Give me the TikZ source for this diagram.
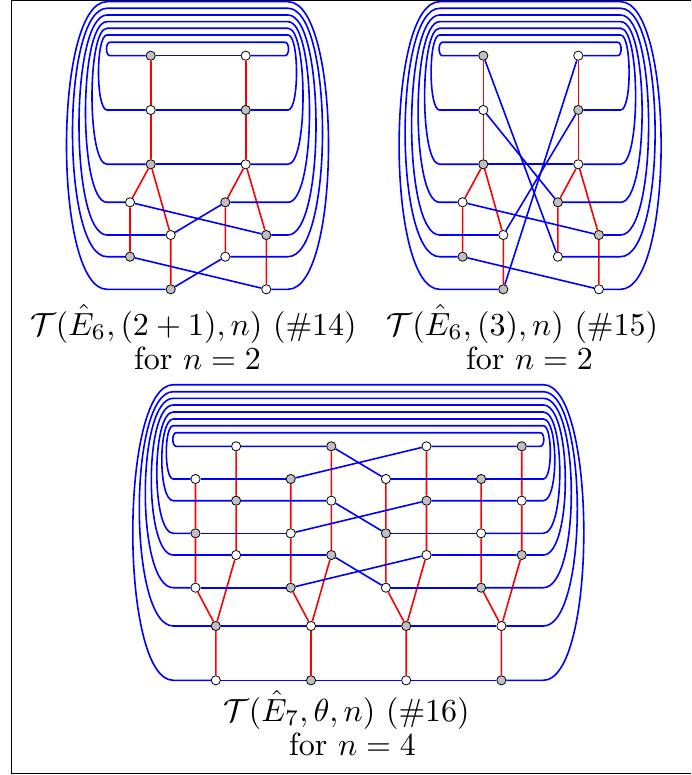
\documentclass[tikz,border=0pt]{standalone}
\usepackage{amsmath}
\usepackage{tikz}
\definecolor{vertgray}{RGB}{192,192,192}
\tikzset{
  wvert/.style={circle, draw=black, fill=white, line width=0.4pt,
    inner sep=0pt, minimum size=4.6pt},
  gvert/.style={wvert, fill=vertgray},
  redge/.style={red, line width=0.8pt},
  bedge/.style={blue, line width=0.8pt},
  captext/.style={anchor=base, inner sep=0pt, scale=1.6, transform shape}
}

\begin{document}
\begin{tikzpicture}[x=0.5pt, y=-0.5pt]
  \useasboundingbox (0,0) rectangle (691,775);
  % Frame
  \draw[line width=0.6pt] (691,0.6) -- (11.3,0.6) -- (11.3,773.8) -- (691,773.8);

  % Top diagrams (E6 hat), the second one shifted right
  \foreach \p/\sh in {A/0,B/332.6}{
    \begin{scope}[shift={(\sh,0)}]
      \node[gvert] (\p u1) at (150.7,55.7) {};
      \node[wvert] (\p v1) at (245.7,55.7) {};
      \node[wvert] (\p u2) at (150.7,110) {};
      \node[gvert] (\p v2) at (245.7,110) {};
      \node[gvert] (\p u3) at (150.7,164.3) {};
      \node[wvert] (\p v3) at (245.7,164.3) {};
      \node[wvert] (\p p4) at (130,202.3) {};
      \node[gvert] (\p r4) at (225.3,202.3) {};
      \node[wvert] (\p q5) at (170.7,235) {};
      \node[gvert] (\p s5) at (266.3,235) {};
      \node[gvert] (\p p6) at (130,256.7) {};
      \node[wvert] (\p r6) at (225.3,256.7) {};
      \node[gvert] (\p q7) at (170.7,289.3) {};
      \node[wvert] (\p s7) at (266.3,289.3) {};
      % red edges
      \draw[redge] (\p u1) -- (\p u2) -- (\p u3);
      \draw[redge] (\p v1) -- (\p v2) -- (\p v3);
      \draw[redge] (\p u3) -- (\p p4) -- (\p p6);
      \draw[redge] (\p u3) -- (\p q5) -- (\p q7);
      \draw[redge] (\p v3) -- (\p r4) -- (\p r6);
      \draw[redge] (\p v3) -- (\p s5) -- (\p s7);
      % loops round the top
      \foreach \a/\b/\yb/\yt/\d/\e in {u1/v1/55.7/42.3/3.5/3, u2/v2/110/35/8.5/0,
          u3/v3/164.3/28.3/15/0, p4/r4/202.3/21.7/21.5/0, q5/s5/235/15/28/0,
          p6/r6/256.7/8.3/34.5/0, q7/s7/289.3/1.7/40.5/0}
        \draw[bedge] (\p\a) -- ({107+\e},\yb)
          .. controls ({107+\e-4*\d/3},\yb) and ({107+\e-4*\d/3},\yt) .. ({107+\e},\yt)
          -- ({288-\e},\yt)
          .. controls ({288-\e+4*\d/3},\yt) and ({288-\e+4*\d/3},\yb) .. ({288-\e},\yb)
          -- (\p\b);
      \draw[bedge] (\p p4) -- (\p s5);
      \draw[bedge] (\p p6) -- (\p s7);
      \draw[bedge] (\p u3) -- (\p v3);
    \end{scope}
  }
  % inner blue edges, left diagram
  \draw[bedge] (Au1) -- (Av1);
  \draw[bedge] (Au2) -- (Av2);
  \draw[bedge] (Aq5) -- (Ar4);
  \draw[bedge] (Aq7) -- (Ar6);
  % inner blue edges, right diagram
  \draw[bedge] (Bu1) -- (Br6);
  \draw[bedge] (Bu2) -- (Br4);
  \draw[bedge] (Bv1) -- (Bq7);
  \draw[bedge] (Bv2) -- (Bq5);

  \node[captext] (capA) at (193.5,335) {$\mathcal{T}(\hat{E}_6,(2+1),n)$ (\#14)};
  \node[captext] (capAn) at (197.5,369) {for $n=2$};
  \node[captext] (capB) at (522.5,335) {$\mathcal{T}(\hat{E}_6,(3),n)$ (\#15)};
  \node[captext] (capBn) at (529.5,369) {for $n=2$};

  % Bottom diagram (E7 hat), four groups
  \foreach \g/\X/\ca/\cb in {1/215.8/w/g, 2/311/g/w, 3/406.2/w/g, 4/501.4/g/w}{
    \node[\ca vert] (b\g r1) at ({\X+20.3},446.3) {};
    \node[\ca vert] (b\g r2) at ({\X-20.3},479) {};
    \node[\cb vert] (b\g r3) at ({\X+20.3},500.7) {};
    \node[\cb vert] (b\g r4) at ({\X-20.3},533.3) {};
    \node[\ca vert] (b\g r5) at ({\X+20.3},555) {};
    \node[\ca vert] (b\g r6) at ({\X-20.3},587.7) {};
    \node[\cb vert] (b\g r7) at (\X,626) {};
    \node[\ca vert] (b\g r8) at (\X,680.3) {};
    \draw[redge] (b\g r1) -- (b\g r3) -- (b\g r5) -- (b\g r7) -- (b\g r8);
    \draw[redge] (b\g r2) -- (b\g r4) -- (b\g r6) -- (b\g r7);
  }
  % loops
  \foreach \k/\yb/\yt/\d/\e in {1/446.3/432.7/3.5/3, 2/479/425.7/7/0,
      3/500.7/419/11.5/0, 4/533.3/412/16.5/0, 5/555/405/22/0,
      6/587.7/398.3/28/0, 7/626/391.7/34/0, 8/680.3/384.7/40.5/0}{
    \draw[bedge] (b1r\k) -- ({173.3+\e},\yb)
      .. controls ({173.3+\e-4*\d/3},\yb) and ({173.3+\e-4*\d/3},\yt) .. ({173.3+\e},\yt)
      -- ({543.3-\e},\yt)
      .. controls ({543.3-\e+4*\d/3},\yt) and ({543.3-\e+4*\d/3},\yb) .. ({543.3-\e},\yb)
      -- (b4r\k);
  }
  % crossings between the middle groups
  \foreach \k/\m in {1/2,3/4,5/6}{
    \draw[bedge] (b1r\k) -- (b2r\k) -- (b3r\m);
    \draw[bedge] (b2r\m) -- (b3r\k) -- (b4r\k);
    \draw[bedge] (b1r\m) -- (b2r\m);
    \draw[bedge] (b3r\m) -- (b4r\m);
  }
  \draw[bedge] (b1r7) -- (b2r7) -- (b3r7) -- (b4r7);
  \draw[bedge] (b1r8) -- (b2r8) -- (b3r8) -- (b4r8);

  \node[captext] (capC) at (346.5,721) {$\mathcal{T}(\hat{E}_7,\theta,n)$ (\#16)};
  \node[captext] (capCn) at (352.5,755) {for $n=4$};
\end{tikzpicture}
\end{document}
